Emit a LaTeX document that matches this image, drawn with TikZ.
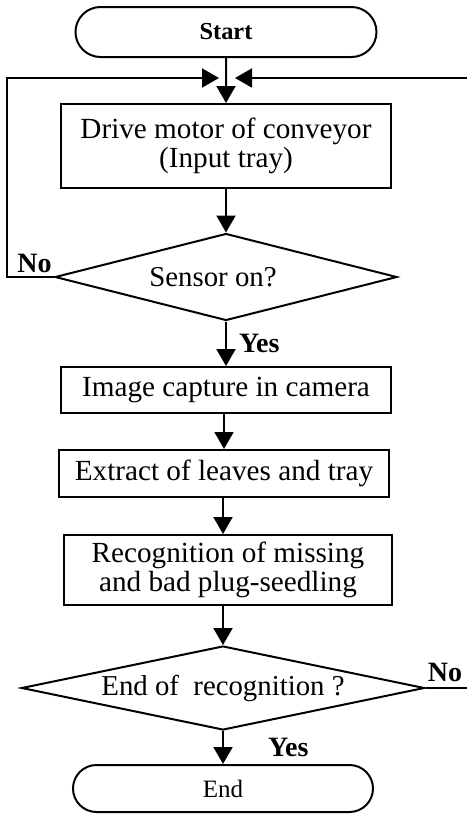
\documentclass[tikz,border=0pt]{standalone}
\usepackage{fontspec}
\setmainfont{Liberation Serif}
\usetikzlibrary{shapes, arrows.meta, positioning}
\tikzstyle{terminal} = [draw, rounded rectangle, line width=1pt, inner sep=0pt]
\tikzstyle{process} = [draw, rectangle, line width=1pt, align=center, inner sep=0pt, minimum width=165pt, font=\fontsize{14.6}{14.8}\selectfont]
\tikzstyle{decision} = [draw, diamond, aspect=5, line width=1pt, inner sep=0pt, font=\fontsize{14.4}{14.8}\selectfont]
\tikzstyle{answer} = [inner sep=1pt, font=\fontsize{14}{14}\selectfont\bfseries]
\tikzstyle{arrowline} = [line width=1pt, -{Triangle[length=8.5pt, width=9.5pt]}]

\begin{document}
\begin{tikzpicture}[x=0.5pt, y=-0.5pt]
	\useasboundingbox (0,0) rectangle (467,816);
	\node [terminal, minimum width=150.5pt, minimum height=25pt, font=\fontsize{12.2}{12}\selectfont\bfseries] (start) at (226,32) {Start};
	\node [process, minimum height=42pt] (drive) at (226,146) {Drive motor of conveyor\\(Input tray)};
	\node [decision, minimum width=171pt, minimum height=43.5pt] (sensor) at (226,277) {Sensor on?\hspace*{13pt}};
	\node [process, minimum height=23pt] (capture) at (226,390) {Image capture in camera};
	\node [process, minimum height=23.5pt] (extract) at (224,473.5) {Extract of leaves and tray};
	\node [process, minimum width=164pt, minimum height=35pt] (recognition) at (228,570) {Recognition of missing\\and bad plug-seedling};
	\node [decision, minimum width=201.5pt, minimum height=42pt] (check) at (223,688) {End of~ recognition ?};
	\node [terminal, minimum width=150pt, minimum height=23.5pt, font=\fontsize{12.5}{12.5}\selectfont] (end) at (223,788.5) {End};
	\coordinate (loopL) at (7,78);
	\coordinate (joinL) at (219,78);
	\coordinate (joinR) at (235,78);
	\coordinate (loopR) at (467,78);
	\draw [arrowline] (start) -- (drive);
	\draw [arrowline] (drive) -- (sensor);
	\draw [arrowline] (sensor.south) -- node[answer, right=5pt] {Yes} (capture.north);
	\draw [arrowline] (extract.north |- capture.south) -- (extract.north);
	\draw [arrowline] (extract.south -| check.north) -- (check.north |- recognition.north);
	\draw [arrowline] (check.north |- recognition.south) -- (check.north);
	\draw [arrowline] (check.south) -- node[answer, right=21pt] {Yes} (end.north);
	\draw [arrowline] (sensor.west) -- (sensor.west -| loopL) -- (loopL) -- (joinL);
	\draw [arrowline] (loopR) -- (joinR);
	\draw [line width=1pt] (check.east) -- (check.east -| loopR);
	\node [answer, above left=1pt and 0pt] at (sensor.west) {No};
	\node [answer, above right=2pt and 0pt] at (check.east) {No};
\end{tikzpicture}
\end{document}
